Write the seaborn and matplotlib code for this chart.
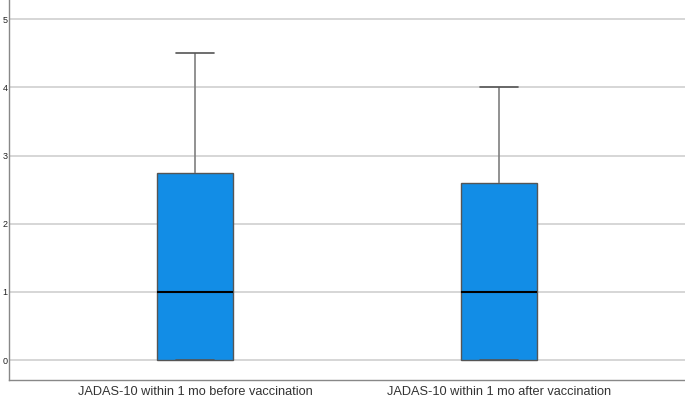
import numpy as np
import pandas as pd
import matplotlib
matplotlib.use("Agg")
import matplotlib.pyplot as plt
import seaborn as sns

# Values (min, Q1, median, Q3, max reproduced by these points)
labels = ["JADAS-10 within 1 mo before vaccination",
          "JADAS-10 within 1 mo after vaccination"]
before_vals = [0, 0, 0, 0.5, 1, 2, 2.75, 3.5, 4.5]
after_vals = [0, 0, 0, 0.5, 1, 2, 2.6, 3.0, 4.0]
y_ticks = [0, 1, 2, 3, 4, 5]

df = pd.DataFrame({
    "group": [labels[0]] * len(before_vals) + [labels[1]] * len(after_vals),
    "score": before_vals + after_vals,
})

sns.set_style("white")
plt.rcParams["font.family"] = ["Liberation Sans", "DejaVu Sans"]

fig = plt.figure(figsize=(6.85, 3.98), dpi=100)
ax = fig.add_axes([9 / 685, 18 / 398, 1 - 9 / 685, 1 - 18 / 398])

sns.boxplot(data=df, x="group", y="score", order=labels, ax=ax,
            width=0.25, whis=np.inf, color="#128de6", saturation=1,
            linewidth=1,
            boxprops=dict(edgecolor="#555555", facecolor="#128de6"),
            whiskerprops=dict(color="#7f7f7f", linewidth=1.2),
            capprops=dict(color="#555555", linewidth=1.2),
            medianprops=dict(color="black", linewidth=1.5),
            zorder=3)

ax.set_ylim(-0.29, 5.28)
ax.set_xlim(-0.612, 1.612)
ax.set_yticks(y_ticks)
ax.set_yticklabels([str(t) for t in y_ticks], fontsize=6.5, color="#222222")
ax.tick_params(axis="y", length=0, pad=1)
ax.tick_params(axis="x", length=0, pad=4, labelsize=9.2, labelcolor="#333333")
ax.set_xlabel("")
ax.set_ylabel("")
ax.yaxis.grid(True, color="#cfcfcf", linewidth=1.2, zorder=0)
ax.set_axisbelow(True)

for s in ["top", "right"]:
    ax.spines[s].set_visible(False)
for s in ["left", "bottom"]:
    ax.spines[s].set_color("#888888")
    ax.spines[s].set_linewidth(1)

fig.savefig("out.png", dpi=100)
